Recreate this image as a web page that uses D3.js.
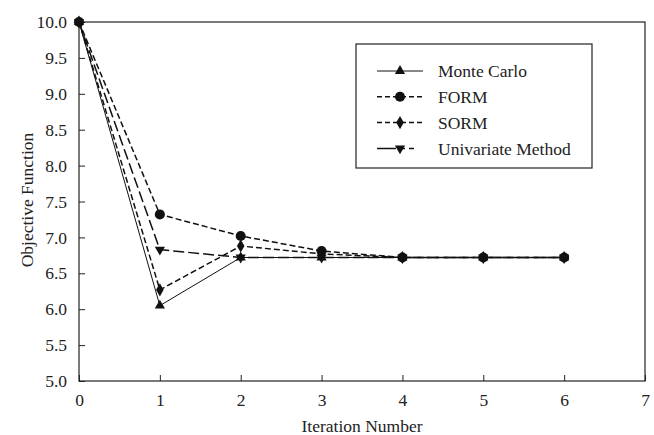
<!DOCTYPE html>
<html>
<head>
  <meta charset='utf-8'>
  <title>Objective Function</title>
  <script src="https://cdnjs.cloudflare.com/ajax/libs/d3/7.8.5/d3.min.js"></script>
  <style>
    body { margin: 0; background: white; }
    text { font-family: 'Liberation Serif', 'Times New Roman', serif; fill: #222; }
  </style>
</head>
<body>
  <svg id="chart" width="654" height="435"></svg>
  <script>
    // values
    const iterations = [0, 1, 2, 3, 4, 5, 6];
    const monteCarlo = [10.0, 6.05, 6.72, 6.72, 6.72, 6.72, 6.72];
    const form = [10.0, 7.32, 7.02, 6.81, 6.72, 6.72, 6.72];
    const sorm = [10.0, 6.27, 6.88, 6.77, 6.72, 6.72, 6.72];
    const univariate = [10.0, 6.83, 6.72, 6.72, 6.72, 6.72, 6.72];
    const seriesNames = ['Monte Carlo', 'FORM', 'SORM', 'Univariate Method'];
    const xTicks = [0, 1, 2, 3, 4, 5, 6, 7];
    const yTicks = [5.0, 5.5, 6.0, 6.5, 7.0, 7.5, 8.0, 8.5, 9.0, 9.5, 10.0];

    const series = [
      { name: seriesNames[0], values: monteCarlo, dash: null, width: 1, symbol: d3.symbolTriangle, size: 45, rot: 0 },
      { name: seriesNames[1], values: form, dash: '6,3', width: 1.5, symbol: d3.symbolCircle, size: 80, rot: 0 },
      { name: seriesNames[2], values: sorm, dash: '6,3', width: 1.5, symbol: d3.symbolDiamond, size: 50, rot: 0 },
      { name: seriesNames[3], values: univariate, dash: '11,4', width: 1.5, symbol: d3.symbolTriangle, size: 45, rot: 180 }
    ];

    const plotL = 79, plotR = 645, plotT = 22, plotB = 381;
    const fontSize = '17.5px';
    const svg = d3.select('#chart');

    const x = d3.scaleLinear().domain([0, 7]).range([plotL, plotR]);
    const y = d3.scaleLinear().domain([5, 10]).range([plotB, plotT]);

    // frame
    svg.append('rect')
      .attr('x', plotL).attr('y', plotT)
      .attr('width', plotR - plotL).attr('height', plotB - plotT)
      .attr('fill', 'none').attr('stroke', '#222').attr('stroke-width', 1.2);

    const xAxis = svg.append('g')
      .attr('transform', `translate(0,${plotB})`)
      .call(d3.axisBottom(x).tickValues(xTicks).tickFormat(d3.format('d'))
        .tickSizeInner(-6).tickSizeOuter(0).tickPadding(13));
    xAxis.select('.domain').remove();
    xAxis.selectAll('line').attr('stroke', '#222');
    xAxis.selectAll('text').style('font-size', fontSize).attr('font-family', null);

    const yAxis = svg.append('g')
      .attr('transform', `translate(${plotL},0)`)
      .call(d3.axisLeft(y).tickValues(yTicks).tickFormat(d3.format('.1f'))
        .tickSizeInner(-6).tickSizeOuter(0).tickPadding(12));
    yAxis.select('.domain').remove();
    yAxis.selectAll('line').attr('stroke', '#222');
    yAxis.selectAll('text').style('font-size', fontSize).attr('font-family', null);

    svg.append('text')
      .attr('x', 362).attr('y', 432)
      .attr('text-anchor', 'middle').style('font-size', fontSize)
      .text('Iteration Number');

    svg.append('text')
      .attr('transform', `translate(33,200) rotate(-90)`)
      .attr('text-anchor', 'middle').style('font-size', fontSize)
      .text('Objective Function');

    const line = d3.line().x((d, i) => x(iterations[i])).y(d => y(d));

    const g = svg.append('g');
    series.forEach(s => {
      g.append('path')
        .datum(s.values)
        .attr('d', line)
        .attr('fill', 'none')
        .attr('stroke', '#111')
        .attr('stroke-width', s.width)
        .attr('stroke-dasharray', s.dash);
      g.selectAll(null)
        .data(s.values)
        .join('path')
        .attr('d', d3.symbol().type(s.symbol).size(s.size))
        .attr('transform', (d, i) => `translate(${x(iterations[i])},${y(d)}) rotate(${s.rot})`)
        .attr('fill', '#111');
    });

    // legend
    const legend = svg.append('g').attr('transform', 'translate(356,44)');
    legend.append('rect')
      .attr('width', 236).attr('height', 124)
      .attr('fill', 'white').attr('stroke', '#222').attr('stroke-width', 1.2);
    series.forEach((s, i) => {
      const ly = 27 + i * 25.8;
      legend.append('line')
        .attr('x1', 21).attr('x2', 67).attr('y1', ly).attr('y2', ly)
        .attr('stroke', '#111').attr('stroke-width', s.width)
        .attr('stroke-dasharray', s.dash ? (i === 3 ? '19,4,5,4,5' : '5,3') : null);
      legend.append('path')
        .attr('d', d3.symbol().type(s.symbol).size(s.size))
        .attr('transform', `translate(44,${ly}) rotate(${s.rot})`)
        .attr('fill', '#111');
      legend.append('text')
        .attr('x', 82).attr('y', ly).attr('dy', '0.35em')
        .style('font-size', fontSize)
        .text(s.name);
    });
  </script>
</body>
</html>
